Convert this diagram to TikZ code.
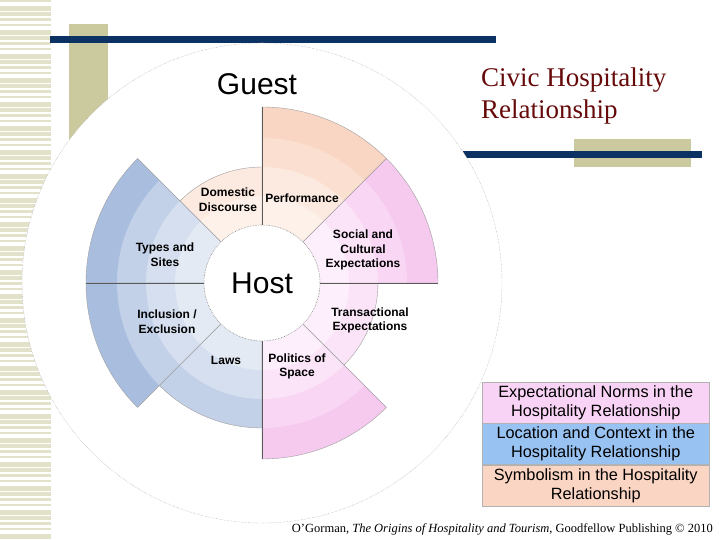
\documentclass[tikz,border=0pt]{standalone}
\usepackage{fontspec}
\setmainfont{Liberation Serif}
\newfontfamily\arial{Liberation Sans}
\definecolor{navy}{HTML}{0B3262}
\definecolor{olive}{HTML}{CBC99E}
\definecolor{stripecol}{HTML}{E2E1CA}
\definecolor{titlered}{HTML}{660A0A}
% peach bands (a inner ... d outer)
\definecolor{peacha}{HTML}{FDF1EA}
\definecolor{peachb}{HTML}{FCE9DF}
\definecolor{peachc}{HTML}{FBE0D1}
\definecolor{peachd}{HTML}{F9D6C3}
% pink bands
\definecolor{pinka}{HTML}{FDEFFB}
\definecolor{pinkb}{HTML}{FBE4F8}
\definecolor{pinkc}{HTML}{F9D7F4}
\definecolor{pinkd}{HTML}{F6C9EF}
% blue bands
\definecolor{bluea}{HTML}{E3EAF4}
\definecolor{blueb}{HTML}{D5DFEF}
\definecolor{bluec}{HTML}{C2D1E8}
\definecolor{blued}{HTML}{A9BEDF}
% legend
\definecolor{legpink}{HTML}{F9D3F5}
\definecolor{legblue}{HTML}{98C2F2}
\definecolor{legpeach}{HTML}{FAD5C3}
\newcommand{\mywedge}[4]{\fill[#4] (C) -- ([shift={(#1:#3)}]C) arc[start angle=#1,end angle=#2,radius=#3] -- cycle;}
\newcommand{\mysector}[4]{%
  \ifdim #3pt>150pt \mywedge{#1}{#2}{176}{#4d}\fi
  \ifdim #3pt>120pt \mywedge{#1}{#2}{145}{#4c}\fi
  \mywedge{#1}{#2}{116}{#4b}%
  \mywedge{#1}{#2}{87}{#4a}%
  \draw[outl] ([shift={(#1:58)}]C) -- ([shift={(#1:#3)}]C) arc[start angle=#1,end angle=#2,radius=#3] -- ([shift={(#2:58)}]C);
}
\begin{document}
\begin{tikzpicture}[x=1pt,y=1pt,
  outl/.style={draw=gray!75, line width=0.4pt},
  axisline/.style={draw=black!65, line width=0.7pt},
  lbl/.style={font=\arial\bfseries\fontsize{12}{14.5}\selectfont, align=center, inner sep=0pt},
  legbox/.style={draw=gray!60, line width=0.5pt, minimum width=227pt, minimum height=41pt, inner sep=0pt, align=center, font=\arial\fontsize{16.3}{19}\selectfont}]
\useasboundingbox (0,0) rectangle (720,540);
\fill[white] (0,0) rectangle (720,540);
% left stripes
\foreach \i in {0,...,89}{
  \pgfmathsetmacro\h{2+mod(\i*7,4)}
  \fill[stripecol] (0,{540-\i*6}) rectangle (51,{540-\i*6-\h});
}
% decorative bars
\fill[olive] (69,516) rectangle (108,380);
\fill[olive] (574,401) rectangle (691,373);
\fill[navy] (50,504) rectangle (496,497);
\fill[navy] (463,389) rectangle (702,382);
% big circle
\coordinate (C) at (262,257);
\draw[fill=white, draw=gray!80, line width=0.4pt, densely dotted] (C) circle[radius=240];
% sectors
\mysector{45}{90}{176}{peach}
\mysector{90}{135}{116}{peach}
\mysector{135}{180}{176}{blue}
\mysector{180}{225}{176}{blue}
\mysector{225}{270}{145}{blue}
\mysector{270}{315}{176}{pink}
\mysector{315}{360}{116}{pink}
\mysector{0}{45}{176}{pink}
% axes
\draw[axisline] ([shift={(90:58)}]C) -- ([shift={(90:176)}]C);
\draw[axisline] ([shift={(270:58)}]C) -- ([shift={(270:176)}]C);
\draw[axisline] ([shift={(180:58)}]C) -- ([shift={(180:176)}]C);
\draw[axisline] ([shift={(0:58)}]C) -- ([shift={(0:176)}]C);
% host
\node[circle, fill=white, draw=gray, densely dotted, line width=0.6pt, minimum size=116pt, inner sep=0pt, font=\arial\fontsize{30}{30}\selectfont] (host) at (C) {Host};
% sector labels
\node[lbl] (dom) at (228,340.5) {Domestic\\Discourse};
\node[lbl] (perf) at (302,342) {Performance};
\node[lbl] (soc) at (363,290) {Social and\\Cultural\\Expectations};
\node[lbl] (trans) at (370,219.5) {Transactional\\Expectations};
\node[lbl] (pol) at (297,173.5) {Politics of\\Space};
\node[lbl] (laws) at (226,180) {Laws};
\node[lbl] (incl) at (167,218.5) {Inclusion /\\Exclusion};
\node[lbl] (types) at (165,285.5) {Types and\\Sites};
\node[font=\arial\fontsize{30}{30}\selectfont, inner sep=0pt] (guest) at (257,456) {Guest};
% title
\node[anchor=base west, align=left, inner sep=0pt, text=titlered, font=\fontsize{27}{32}\selectfont] (title) at (481,421) {Civic Hospitality\\Relationship};
% legend
\node[legbox, fill=legpink, anchor=north west] (l1) at (482,158) {Expectational Norms in the\\Hospitality Relationship};
\node[legbox, fill=legblue, anchor=north] (l2) at (l1.south) {Location and Context in the\\Hospitality Relationship};
\node[legbox, fill=legpeach, anchor=north] (l3) at (l2.south) {Symbolism in the Hospitality\\Relationship};
% footer
\node[anchor=base east, inner sep=0pt, font=\fontsize{12.5}{14}\selectfont] (foot) at (713,7) {O'Gorman, \textit{The Origins of Hospitality and Tourism}, Goodfellow Publishing \textcopyright{} 2010};
\end{tikzpicture}
\end{document}
